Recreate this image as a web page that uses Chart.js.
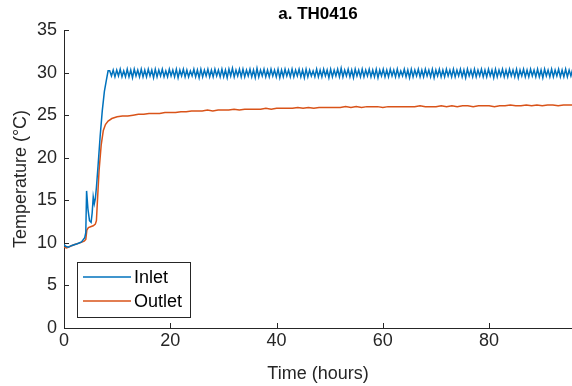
<!DOCTYPE html>
<html>
<head>
<meta charset="utf-8">
<script src="https://cdn.jsdelivr.net/npm/chart.js@4.4.1/dist/chart.umd.min.js"></script>
<style>
  html, body { margin: 0; padding: 0; background: #fff; }
  #wrap { width: 572px; height: 386px; }
</style>
</head>
<body>
<div id="wrap"><canvas id="grafica" width="572" height="386"></canvas></div>
<script>
// ---- data ----
const seriesNames = ['Inlet', 'Outlet'];
const yTicks = [0, 5, 10, 15, 20, 25, 30, 35];
const xTicks = [0, 20, 40, 60, 80];

// start-up part (hours, degC)
const inletStartT = [0, 0.3, 0.8, 1.5, 2.5, 3.3, 3.9, 4.1, 4.25, 4.5, 4.8, 5.1, 5.3, 5.5, 5.7, 5.9, 6.1, 6.4, 6.8, 7.2, 7.6, 8.0, 8.3];
const inletStartV = [9.8, 9.6, 9.5, 9.7, 9.9, 10.1, 10.6, 11.2, 16.1, 14.0, 12.6, 12.4, 13.5, 15.4, 14.6, 15.2, 16.5, 19.0, 22.5, 25.5, 27.8, 29.2, 30.2];

// steady part of inlet, sampled every 0.33 h from 8.6 h (peaks / troughs of the cycling)
const inletSteadyStart = 8.6;
const inletSteadyStep = 0.33;
const inletSteadyV = [
  30.2,29.6,30.3,29.5,30.3,29.6,30.4,29.5,30.2,29.5,
  30.4,29.5,30.3,29.4,30.4,29.6,30.3,29.5,30.4,29.5,
  30.3,29.5,30.4,29.6,30.3,29.4,30.4,29.5,30.3,29.6,
  30.4,29.5,30.2,29.5,30.4,29.6,30.3,29.5,30.4,29.4,
  30.3,29.6,30.4,29.5,30.3,29.5,30.2,29.6,30.4,29.5,
  30.3,29.4,30.4,29.5,30.3,29.6,30.4,29.5,30.3,29.5,
  30.4,29.6,30.3,29.5,30.4,29.5,30.3,29.4,30.4,29.6,
  30.5,29.5,30.3,29.6,30.4,29.5,30.4,29.5,30.3,29.6,
  30.4,29.5,30.3,29.4,30.5,29.5,30.3,29.6,30.4,29.5,
  30.3,29.5,30.4,29.6,30.3,29.5,30.4,29.4,30.3,29.5,
  30.4,29.6,30.3,29.5,30.4,29.5,30.3,29.6,30.4,29.5,
  30.3,29.4,30.4,29.5,30.3,29.6,30.2,29.5,30.4,29.5,
  30.3,29.5,30.4,29.6,30.3,29.4,30.4,29.5,30.3,29.6,
  30.4,29.5,30.5,29.5,30.3,29.6,30.4,29.5,30.3,29.4,
  30.4,29.6,30.3,29.5,30.4,29.5,30.3,29.6,30.4,29.5,
  30.3,29.5,30.4,29.4,30.3,29.6,30.4,29.5,30.3,29.5,
  30.4,29.6,30.3,29.5,30.4,29.5,30.2,29.6,30.4,29.5,
  30.3,29.4,30.4,29.5,30.3,29.6,30.4,29.5,30.3,29.5,
  30.4,29.6,30.3,29.5,30.4,29.4,30.3,29.6,30.4,29.5,
  30.3,29.5,30.4,29.6,30.3,29.5,30.4,29.5,30.3,29.6,
  30.4,29.5,30.3,29.4,30.4,29.6,30.3,29.5,30.4,29.5,
  30.3,29.6,30.4,29.5,30.3,29.5,30.4,29.6,30.3,29.4,
  30.4,29.5,30.3,29.6,30.4,29.5,30.3,29.5,30.4,29.6,
  30.3,29.5,30.4,29.4,30.3,29.6,30.4,29.5,30.3,29.5,
  30.4,29.6,30.3,29.5,30.4,29.5,30.3,29.4,30.4,29.6,
  30.3,29.5,30.4,29.5,30.3,29.6,30.4,29.5,30.3,29.5,
  30.4,29.5,30.3,29.6,30.4,29.5,30.3,29.5,30.4,29.6
];

const outletStartT = [0, 0.5, 1.2, 2, 3, 3.8, 4.1, 4.3, 4.6, 5.0, 5.5, 5.9, 6.1, 6.3, 6.6, 7.0, 7.4, 7.8, 8.3];
const outletStartV = [9.5, 9.4, 9.6, 9.8, 10.0, 10.2, 10.4, 11.5, 11.8, 11.9, 12.0, 12.2, 12.6, 15.0, 18.5, 21.5, 23.2, 23.9, 24.3];

// outlet from 9 h onwards, one value per hour
const outletHourStart = 9;
const outletHourV = [
  24.6,24.8,24.9,24.9,25.0,25.1,25.1,25.2,25.2,25.2,
  25.3,25.3,25.3,25.4,25.4,25.5,25.5,25.5,25.6,25.5,
  25.6,25.6,25.6,25.7,25.6,25.7,25.7,25.7,25.7,25.8,
  25.7,25.8,25.8,25.8,25.8,25.9,25.8,25.9,25.8,25.9,
  25.9,25.9,25.9,25.9,26.0,25.9,26.0,25.9,26.0,26.0,
  26.0,25.9,26.0,26.0,26.0,26.0,26.0,26.0,26.1,26.0,
  26.0,26.0,26.1,26.0,26.1,26.0,26.1,26.1,26.0,26.1,
  26.1,26.1,26.0,26.1,26.1,26.2,26.1,26.1,26.2,26.1,
  26.2,26.1,26.2,26.2,26.1,26.2,26.2,26.2
];

// ---- build point lists ----
const inletPts = [];
inletStartT.forEach((t, i) => inletPts.push({x: t, y: inletStartV[i]}));
inletSteadyV.forEach((v, i) => inletPts.push({x: inletSteadyStart + i * inletSteadyStep, y: v}));

const outletPts = [];
outletStartT.forEach((t, i) => outletPts.push({x: t, y: outletStartV[i]}));
outletHourV.forEach((v, i) => outletPts.push({x: outletHourStart + i, y: v}));

const axisColor = '#262626';
const fontFam = '"Liberation Sans", Arial, Helvetica, sans-serif';

// inward tick marks, title over plot and boxed legend like matlab
const matlabBits = {
  id: 'matlabBits',
  afterDraw(chart) {
    const ctx = chart.ctx;
    const a = chart.chartArea;
    const xs = chart.scales.x, ys = chart.scales.y;
    ctx.save();
    ctx.strokeStyle = axisColor;
    ctx.lineWidth = 1;
    ctx.beginPath();
    yTicks.forEach(v => {
      const p = Math.round(ys.getPixelForValue(v)) + 0.5;
      ctx.moveTo(a.left, p); ctx.lineTo(a.left + 5, p);
    });
    xTicks.forEach(v => {
      const p = Math.round(xs.getPixelForValue(v)) + 0.5;
      ctx.moveTo(p, a.bottom); ctx.lineTo(p, a.bottom - 5);
    });
    ctx.stroke();

    // title
    ctx.fillStyle = '#000';
    ctx.font = 'bold 17px ' + fontFam;
    ctx.textAlign = 'center';
    ctx.textBaseline = 'middle';
    ctx.fillText('a. TH0416', (a.left + a.right) / 2, 14);

    // legend
    const bx = a.left + 13, by = a.bottom - 66, bw = 113, bh = 55;
    ctx.fillStyle = '#fff';
    ctx.fillRect(bx, by, bw, bh);
    ctx.strokeStyle = axisColor;
    ctx.lineWidth = 1;
    ctx.strokeRect(bx + 0.5, by + 0.5, bw, bh);
    ctx.font = '18px ' + fontFam;
    ctx.textAlign = 'left';
    chart.data.datasets.forEach((ds, i) => {
      const yy = by + 15 + i * 24;
      ctx.strokeStyle = ds.borderColor;
      ctx.lineWidth = 1.4;
      ctx.beginPath();
      ctx.moveTo(bx + 6, yy); ctx.lineTo(bx + 54, yy);
      ctx.stroke();
      ctx.fillStyle = '#000';
      ctx.fillText(ds.label, bx + 57, yy + 1);
    });
    ctx.restore();
  }
};

const graph = document.querySelector('#grafica');

const data = {
  datasets: [
    { label: seriesNames[0], data: inletPts, borderColor: '#0072BD', borderWidth: 1.5, pointRadius: 0, tension: 0 },
    { label: seriesNames[1], data: outletPts, borderColor: '#D95319', borderWidth: 1.5, pointRadius: 0, tension: 0 }
  ]
};

const config = {
  type: 'line',
  data: data,
  plugins: [matlabBits],
  options: {
    responsive: false,
    animation: false,
    layout: { padding: { top: 30, right: 0, left: 0, bottom: 0 } },
    plugins: {
      legend: { display: false },
      title: { display: false },
      tooltip: { enabled: false }
    },
    scales: {
      x: {
        type: 'linear',
        min: 0,
        max: 95.6,
        grid: { display: false, drawTicks: false },
        border: { display: true, color: axisColor, width: 1 },
        afterBuildTicks: s => { s.ticks = xTicks.map(v => ({ value: v })); },
        afterFit: s => { s.height = 58; },
        ticks: { color: axisColor, font: { family: fontFam, size: 18 }, padding: 2, maxRotation: 0 },
        title: { display: true, text: 'Time (hours)', color: axisColor, font: { family: fontFam, size: 18 }, padding: { top: 0, bottom: 1 } }
      },
      y: {
        min: 0,
        max: 35,
        grid: { display: false, drawTicks: false },
        border: { display: true, color: axisColor, width: 1 },
        afterBuildTicks: s => { s.ticks = yTicks.map(v => ({ value: v })); },
        afterFit: s => { s.width = 64; },
        ticks: { color: axisColor, font: { family: fontFam, size: 18 }, padding: 7 },
        title: { display: true, text: 'Temperature (°C)', color: axisColor, font: { family: fontFam, size: 18 }, padding: { top: 10, bottom: 0 } }
      }
    }
  }
};

new Chart(graph, config);
</script>
</body>
</html>
